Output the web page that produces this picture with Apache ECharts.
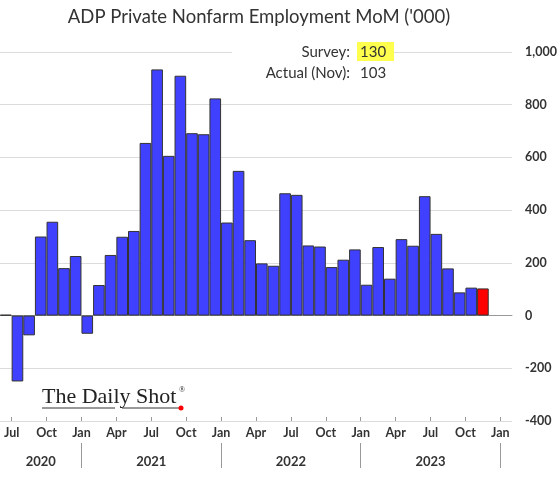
<!DOCTYPE html>
<html><head><meta charset="utf-8">
<script src="https://cdn.jsdelivr.net/npm/echarts@6/dist/echarts.min.js"></script>
<style>html,body{margin:0;padding:0;background:#fff}#c{width:560px;height:479px}</style>
</head><body><div id="c"></div>
<script>
const categories = ['2020-06','2020-07','2020-08','2020-09','2020-10','2020-11','2020-12',
 '2021-01','2021-02','2021-03','2021-04','2021-05','2021-06','2021-07','2021-08','2021-09','2021-10','2021-11','2021-12',
 '2022-01','2022-02','2022-03','2022-04','2022-05','2022-06','2022-07','2022-08','2022-09','2022-10','2022-11','2022-12',
 '2023-01','2023-02','2023-03','2023-04','2023-05','2023-06','2023-07','2023-08','2023-09','2023-10','2023-11','2023-12',
 '2024-01'];
const values = [3,-250,-75,300,356,180,226,
 -69,116,230,299,321,655,934,606,910,692,688,824,
 353,549,286,198,189,464,458,266,262,184,212,251,
 117,260,140,290,265,453,310,179,88,106,103,null,null];
const highlightIndex = 41;
const surveyValue = 130;
const actualLabel = 'Actual (Nov):';
const monthTickPos = [1,4,7,10,13,16,19,22,25,28,31,34,37,40,43];
const monthTickLabels = ['Jul','Oct','Jan','Apr','Jul','Oct','Jan','Apr','Jul','Oct','Jan','Apr','Jul','Oct','Jan'];
const yearSepPos = [7,19,31,43];
const yearLabelPos = [3.5,13,25,37];
const yearLabels = ['2020','2021','2022','2023'];
const yTicks = {min:-400, max:1000, interval:200};

const FONT = 'Lato';
const txt = '#333';
const chart = echarts.init(document.getElementById('c'), null, {renderer:'canvas'});
const barData = values.map((v,i) => i === highlightIndex
  ? {value:v, itemStyle:{color:'#ff0000'}} : v);

chart.setOption({
  animation:false,
  title:{text:"ADP Private Nonfarm Employment MoM ('000)", left:254, top:3, textAlign:'center',
    textStyle:{fontFamily:FONT, fontSize:18.5, fontWeight:'normal', color:'#333'}},
  grid:{left:0, right:48, top:52, bottom:58},
  xAxis:[
    {type:'category', data:categories, boundaryGap:true,
     axisLine:{show:true, onZero:true, lineStyle:{color:'#999', width:1}},
     axisTick:{show:false}, axisLabel:{show:false}, splitLine:{show:false}},
    {type:'value', min:0, max:categories.length, position:'bottom', offset:0,
     axisLine:{show:false, onZero:false}, splitLine:{show:false},
     axisTick:{show:true, inside:true, length:4, customValues:monthTickPos, lineStyle:{color:'#999'}},
     axisLabel:{customValues:monthTickPos, margin:5, fontFamily:FONT, fontSize:12.5, fontWeight:'bold', color:txt,
       formatter:v => monthTickLabels[monthTickPos.indexOf(v)]}},
    {type:'value', min:0, max:categories.length, position:'bottom', offset:22,
     axisLine:{show:false, onZero:false}, splitLine:{show:false},
     axisTick:{show:true, inside:false, length:25, customValues:yearSepPos, lineStyle:{color:'#999'}},
     axisLabel:{customValues:yearLabelPos, margin:12, fontFamily:FONT, fontSize:13, fontWeight:'bold', color:txt,
       formatter:v => yearLabels[yearLabelPos.indexOf(v)]}}
  ],
  yAxis:{type:'value', position:'right', min:yTicks.min, max:yTicks.max, interval:yTicks.interval,
    axisLine:{show:false}, axisTick:{show:false},
    splitLine:{lineStyle:{color:'#dcdcdc', width:1}},
    axisLabel:{margin:13, fontFamily:FONT, fontSize:12.5, fontWeight:'bold', color:txt,
      formatter:v => v.toLocaleString('en-US')}},
  series:[{type:'bar', xAxisIndex:0, data:barData, barCategoryGap:'0%',
    itemStyle:{color:'#4040ff', borderColor:'#333', borderWidth:1}}],
  graphic:[
    {type:'rect', z:10, shape:{x:232, y:44, width:125, height:16}, style:{fill:'#fff'}},
    {type:'rect', z:10, shape:{x:357, y:42, width:37, height:19}, style:{fill:'#ffff4d'}},
    {type:'text', z:11, x:350, y:52, style:{text:'Survey:', align:'right', verticalAlign:'middle', fontFamily:FONT, fontSize:15, fill:txt}},
    {type:'text', z:11, x:360, y:52, style:{text:String(surveyValue), align:'left', verticalAlign:'middle', fontFamily:FONT, fontSize:15, fill:txt}},
    {type:'text', z:11, x:350, y:73, style:{text:actualLabel, align:'right', verticalAlign:'middle', fontFamily:FONT, fontSize:15, fill:txt}},
    {type:'text', z:11, x:360, y:73, style:{text:String(values[highlightIndex]), align:'left', verticalAlign:'middle', fontFamily:FONT, fontSize:15, fill:txt}},
    {type:'text', z:11, x:42, y:397, style:{text:'The Daily Shot', align:'left', verticalAlign:'middle', fontFamily:'Liberation Serif', fontSize:22, fill:'#222'}},
    {type:'text', z:11, x:179, y:390, style:{text:'®', align:'left', verticalAlign:'middle', fontFamily:'Liberation Serif', fontSize:8, fill:'#222'}},
    {type:'line', z:11, shape:{x1:42, y1:408, x2:115, y2:408}, style:{stroke:'#333', lineWidth:1}},
    {type:'line', z:11, shape:{x1:122, y1:408, x2:179, y2:408}, style:{stroke:'#333', lineWidth:1}},
    {type:'circle', z:12, shape:{cx:181, cy:408, r:2.5}, style:{fill:'#ff0000'}}
  ]
});
</script></body></html>
